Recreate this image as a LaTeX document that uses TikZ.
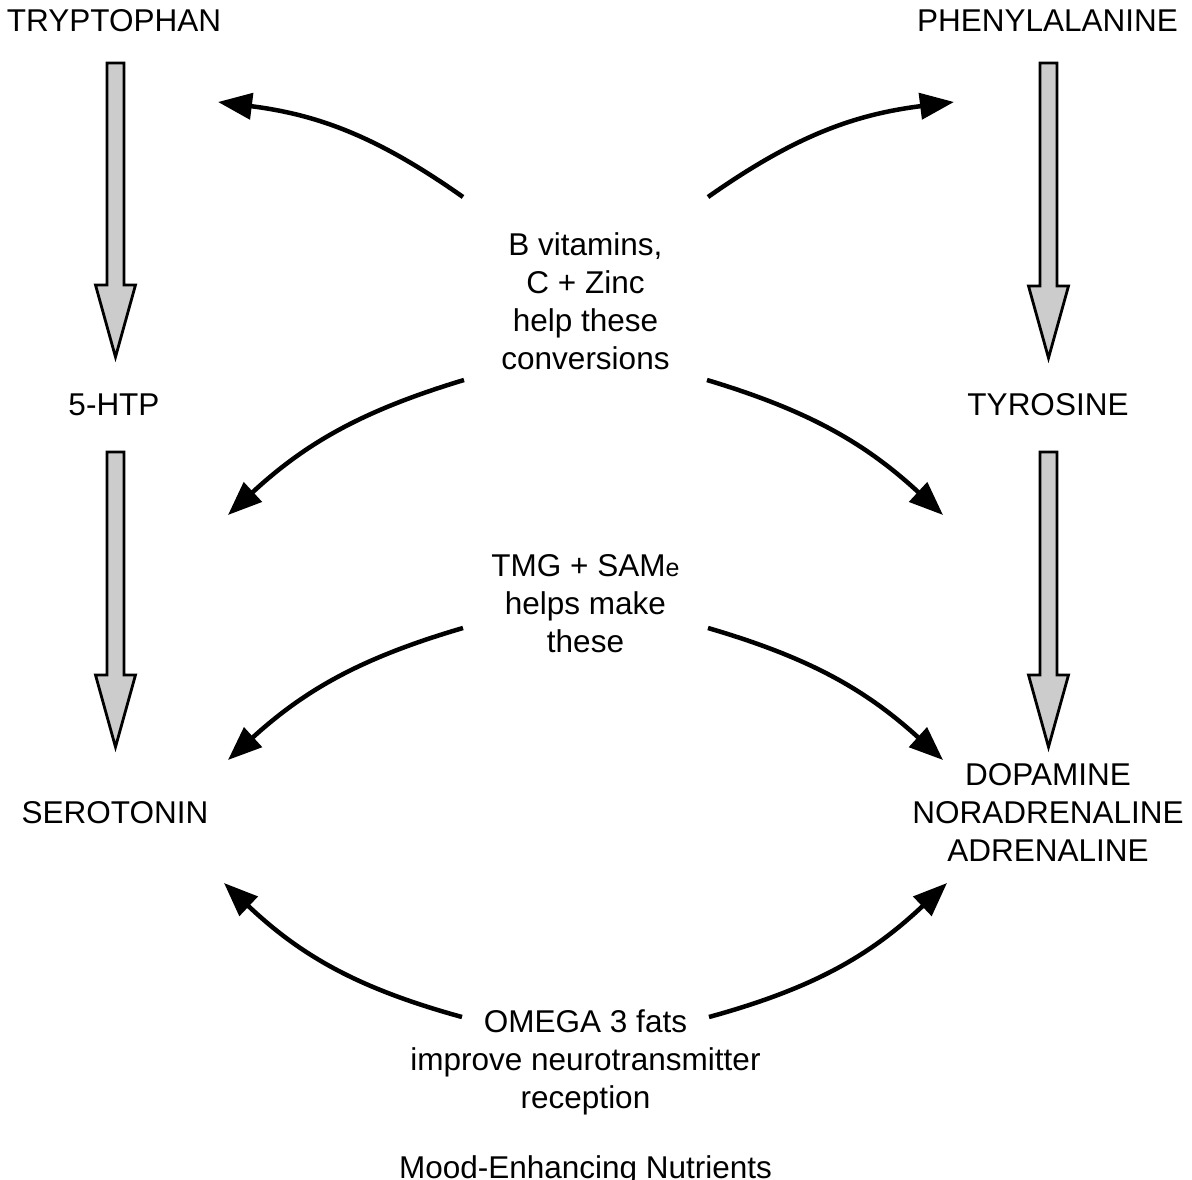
\documentclass[tikz,border=0pt]{standalone}
\usepackage{fontspec}
\setmainfont{Liberation Sans}
\usetikzlibrary{arrows.meta,calc}
\definecolor{arrowgray}{RGB}{204,204,204}
\begin{document}
\begin{tikzpicture}[x=1pt,y=-1pt,
  lbl/.style={inner sep=0pt, anchor=base, align=center, font=\fontsize{31.5}{38}\selectfont},
  curvearrow/.style={line width=4.5pt, -{Triangle[length=34pt,width=26pt]}},
  blockarrow/.style={draw=black, line width=2.8pt, fill=arrowgray, line join=miter,
    to path={($(\tikztostart)+(-8.5,0)$) -- ($(\tikztostart)+(8.5,0)$)
      -- ($(\tikztotarget)+(8.5,-72)$) -- ($(\tikztotarget)+(20,-72)$)
      -- (\tikztotarget) -- ($(\tikztotarget)+(-20,-72)$)
      -- ($(\tikztotarget)+(-8.5,-72)$) -- cycle}}]
\useasboundingbox (0,0) rectangle (1192,1180);

% labels (multi-line nodes: base = baseline of last line)
\node[lbl] (trp) at (114,32) {TRYPTOPHAN};
\node[lbl] (phe) at (1047.5,32) {PHENYLALANINE};
\node[lbl] (htp) at (114,415) {5-HTP};
\node[lbl] (tyr) at (1048,415) {TYROSINE};
\node[lbl] (ser) at (115,823) {SEROTONIN};
\node[lbl] (dop) at (1048,861) {DOPAMINE\\NORADRENALINE\\ADRENALINE};
\node[lbl] (bvit) at (585.5,369) {B vitamins,\\C + Zinc\\help these\\conversions};
\node[lbl] (tmg) at (585.5,652) {TMG + SAM{\fontsize{25}{38}\selectfont e}\\helps make\\these};
\node[lbl] (omg) at (585.5,1108) {OMEGA 3 fats\\improve neurotransmitter\\reception};
\node[lbl] (title) at (585.5,1178) {Mood-Enhancing Nutrients};

% block arrow end points
\coordinate (la1) at (115.5,63);  \coordinate (lb1) at (115.5,357);
\coordinate (la2) at (115.5,452); \coordinate (lb2) at (115.5,747);
\coordinate (ra1) at (1048.5,63); \coordinate (rb1) at (1048.5,358);
\coordinate (ra2) at (1048.5,452);\coordinate (rb2) at (1048.5,747);

\draw[blockarrow] (la1) to (lb1);
\draw[blockarrow] (la2) to (lb2);
\draw[blockarrow] (ra1) to (rb1);
\draw[blockarrow] (ra2) to (rb2);

% curved arrow end points
\coordinate (a1s) at (463,197); \coordinate (a1e) at (218,102);
\coordinate (a2s) at (708,197); \coordinate (a2e) at (954,102);
\coordinate (b1s) at (464,380); \coordinate (b1e) at (228,515);
\coordinate (b2s) at (707,380); \coordinate (b2e) at (943,515);
\coordinate (c1s) at (463,628); \coordinate (c1e) at (228,760);
\coordinate (c2s) at (708,628); \coordinate (c2e) at (943,760);
\coordinate (d1s) at (462,1017); \coordinate (d1e) at (224,883);
\coordinate (d2s) at (709,1017); \coordinate (d2e) at (947,883);

\draw[curvearrow] (a1s) to[bend right=14] (a1e);
\draw[curvearrow] (a2s) to[bend left=14] (a2e);
\draw[curvearrow] (b1s) to[bend right=13] (b1e);
\draw[curvearrow] (b2s) to[bend left=13] (b2e);
\draw[curvearrow] (c1s) to[bend right=13] (c1e);
\draw[curvearrow] (c2s) to[bend left=13] (c2e);
\draw[curvearrow] (d1s) to[bend left=14] (d1e);
\draw[curvearrow] (d2s) to[bend right=14] (d2e);
\end{tikzpicture}
\end{document}
